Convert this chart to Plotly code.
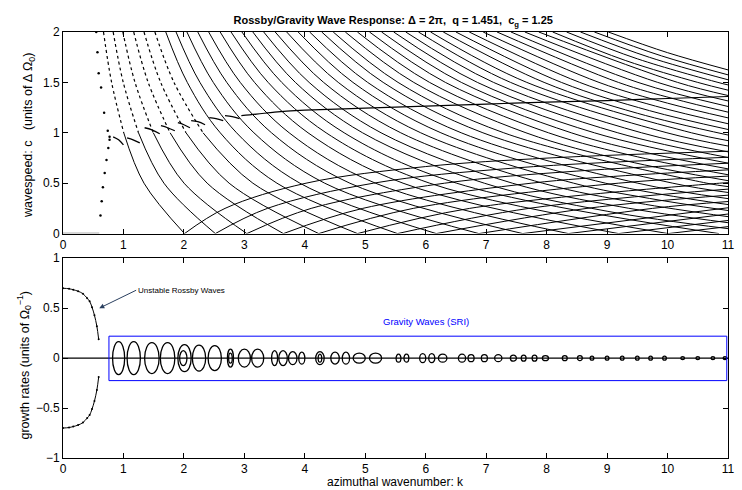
import plotly.graph_objects as go

# ================= data =================
# Descending gravity-wave branches of the wavespeed panel: (k, c) anchors
desc_curves = [
    [(0.67, 2.0), (0.804, 1.5), (1.005, 1.0), (1.34, 0.5), (2.01, 0.0)],
    [(0.83, 2.0), (0.997, 1.5), (1.249, 1.0), (1.67, 0.5), (2.52, 0.0)],
    [(0.99, 2.0), (1.191, 1.5), (1.494, 1.0), (2.003, 0.5), (3.041, 0.0)],
    [(1.17, 2.0), (1.409, 1.5), (1.772, 1.0), (2.385, 0.5), (3.646, 0.0)],
    [(1.34, 2.0), (1.616, 1.5), (2.035, 1.0), (2.748, 0.5), (4.231, 0.0)],
    [(1.52, 2.0), (1.836, 1.5), (2.317, 1.0), (3.141, 0.5), (4.872, 0.0)],
    [(1.70, 2.0), (2.056, 1.5), (2.601, 1.0), (3.539, 0.5), (5.533, 0.0)],
    [(1.87, 2.0), (2.265, 1.5), (2.871, 1.0), (3.919, 0.5), (6.174, 0.0)],
    [(2.05, 2.0), (2.486, 1.5), (3.158, 1.0), (4.329, 0.5), (6.879, 0.0)],
    [(2.23, 2.0), (2.709, 1.5), (3.449, 1.0), (4.745, 0.5), (7.604, 0.0)],
    [(2.41, 2.0), (2.932, 1.5), (3.741, 1.0), (5.169, 0.5), (8.36, 0.0)],
    [(2.60, 2.0), (3.168, 1.5), (4.053, 1.0), (5.625, 0.5), (9.19, 0.0)],
    [(2.78, 2.0), (3.393, 1.5), (4.352, 1.0), (6.066, 0.5), (10.01, 0.0)],
    [(2.96, 2.0), (3.618, 1.5), (4.651, 1.0), (6.512, 0.5), (10.85, 0.0)],
    [(3.14, 2.0), (3.844, 1.5), (4.955, 1.0), (6.969, 0.5), (9.0, 0.222), (11.0, 0.049)],
    [(3.32, 2.0), (4.071, 1.5), (5.261, 1.0), (7.434, 0.5), (9.2, 0.268), (11.0, 0.108)],
    [(3.51, 2.0), (4.311, 1.5), (5.587, 1.0), (7.934, 0.5), (9.5, 0.304), (11.0, 0.168)],
    [(3.70, 2.0), (4.553, 1.5), (5.917, 1.0), (8.447, 0.5), (9.7, 0.349), (11.0, 0.229)],
    [(3.89, 2.0), (4.796, 1.5), (6.251, 1.0), (8.973, 0.5), (11.0, 0.288)],
    [(4.08, 2.0), (5.039, 1.5), (6.587, 1.0), (9.508, 0.5), (11.0, 0.347)],
    [(4.28, 2.0), (5.296, 1.5), (6.946, 1.0), (10.087, 0.5), (11.0, 0.408)],
    [(4.47, 2.0), (5.542, 1.5), (7.291, 1.0), (10.651, 0.5), (11.0, 0.466)],
    [(4.67, 2.0), (5.802, 1.5), (7.658, 1.0), (9.3, 0.724), (11.0, 0.525)],
    [(4.87, 2.0), (6.063, 1.5), (8.03, 1.0), (9.5, 0.762), (11.0, 0.584)],
    [(5.07, 2.0), (6.325, 1.5), (8.407, 1.0), (9.7, 0.797), (11.0, 0.642)],
    [(5.27, 2.0), (6.589, 1.5), (8.789, 1.0), (11.0, 0.699)],
    [(5.47, 2.0), (6.854, 1.5), (9.177, 1.0), (11.0, 0.755)],
    [(5.67, 2.0), (7.121, 1.5), (9.57, 1.0), (11.0, 0.811)],
    [(5.88, 2.0), (7.403, 1.5), (9.99, 1.0), (11.0, 0.869)],
    [(6.08, 2.0), (7.672, 1.5), (10.395, 1.0), (11.0, 0.922)],
    [(6.29, 2.0), (7.958, 1.5), (9.5, 1.194), (11.0, 0.978)],
    [(6.50, 2.0), (8.244, 1.5), (9.7, 1.220), (11.0, 1.033)],
    [(6.72, 2.0), (8.547, 1.5), (9.8, 1.265), (11.0, 1.090)],
    [(6.95, 2.0), (8.866, 1.5), (10.0, 1.294), (11.0, 1.148)],
    [(7.18, 2.0), (9.187, 1.5), (10.1, 1.338), (11.0, 1.205)],
    [(7.41, 2.0), (9.511, 1.5), (11.0, 1.261)],
    [(7.64, 2.0), (9.837, 1.5), (11.0, 1.316)],
    [(7.87, 2.0), (10.166, 1.5), (11.0, 1.370)],
    [(8.10, 2.0), (9.3, 1.718), (10.499, 1.5), (11.0, 1.423)],
    [(8.33, 2.0), (9.5, 1.734), (10.834, 1.5), (11.0, 1.475)],
    [(8.56, 2.0), (9.7, 1.749), (11.0, 1.526)],
    [(8.79, 2.0), (9.9, 1.763), (11.0, 1.575)],
    [(9.02, 2.0), (10.0, 1.795), (11.0, 1.624)],
]

# Ascending (mirror) branches, rising from c = 0
asc_curves = [
    [(2.01, 0.0), (2.68, 0.25), (4.02, 0.5), (6.0, 0.665), (8.04, 0.75), (11.0, 0.817)],
    [(2.52, 0.0), (3.381, 0.25), (5.135, 0.5), (7.5, 0.652), (11.0, 0.757)],
    [(3.041, 0.0), (4.105, 0.25), (6.312, 0.5), (8.5, 0.62), (11.0, 0.698)],
    [(3.646, 0.0), (4.958, 0.25), (7.744, 0.5), (9.3, 0.575), (11.0, 0.632)],
    [(4.231, 0.0), (5.793, 0.25), (9.185, 0.5), (11.0, 0.570)],
    [(4.872, 0.0), (6.726, 0.25), (10.86, 0.5), (11.0, 0.505)],
    [(5.533, 0.0), (7.705, 0.25), (11.0, 0.441)],
    [(6.174, 0.0), (8.667, 0.25), (11.0, 0.381)],
    [(6.879, 0.0), (9.75, 0.25), (11.0, 0.318)],
    [(7.604, 0.0), (11.0, 0.256)],
    [(8.36, 0.0), (11.0, 0.194)],
    [(9.19, 0.0), (11.0, 0.130)],
    [(10.01, 0.0), (11.0, 0.069)],
]

# Rossby (critical-layer) branch: avoided-crossing wiggles, then smooth line
rossby_wiggles = [
    [(0.83, 0.96), (0.92, 0.93), (1.0, 0.88)],
    [(1.06, 0.95), (1.16, 0.93), (1.27, 0.90)],
    [(1.35, 1.05), (1.47, 1.03), (1.60, 0.99)],
    [(1.62, 1.07), (1.73, 1.05), (1.85, 1.02)],
    [(1.90, 1.10), (2.00, 1.08), (2.10, 1.05)],
    [(2.12, 1.12), (2.23, 1.11), (2.35, 1.08)],
    [(2.42, 1.15), (2.53, 1.14), (2.65, 1.12)],
    [(2.68, 1.17), (2.80, 1.16), (2.92, 1.14)],
]
rossby_k = [2.95, 3.2, 3.5, 3.7, 4.0, 5.0, 6.0, 7.0, 8.0, 9.0, 10.0, 11.0]
rossby_c = [1.17, 1.185, 1.205, 1.215, 1.225, 1.245, 1.265, 1.285, 1.305, 1.32, 1.34, 1.36]

# dotted left-hand Rossby branches
rossby_up_k = [0.62, 0.64, 0.66, 0.69, 0.72, 0.75, 0.77]
rossby_up_c = [0.18, 0.32, 0.46, 0.60, 0.73, 0.85, 0.93]
rossby_dn_k = [0.55, 0.57, 0.59, 0.63, 0.68, 0.74, 0.77]
rossby_dn_c = [2.0, 1.80, 1.59, 1.45, 1.20, 1.02, 0.96]
unstable_k = [0.0, 0.6]
unstable_c = [0.0, 0.0]

# growth rate of the unstable Rossby mode (lower panel)
growth_k = [0.0, 0.1, 0.17, 0.25, 0.33, 0.4, 0.44, 0.48, 0.52, 0.56, 0.59]
growth_s = [0.70, 0.695, 0.685, 0.67, 0.645, 0.60, 0.57, 0.51, 0.43, 0.32, 0.19]

# SRI instability bubbles: centre k, half width in k, growth-rate height
bub_center = [0.92, 1.17, 1.47, 1.73, 2.01, 1.99, 2.25, 2.51, 2.77, 2.77, 3.00, 3.22, 3.50,
              3.64, 3.80, 3.95, 4.25, 4.25, 4.50, 4.68, 4.90, 5.17, 5.55, 5.68, 5.95, 6.10,
              6.28, 6.60, 6.75, 6.97, 7.20, 7.45, 7.62, 7.80, 7.98, 8.30, 8.55, 8.75, 9.00,
              9.25, 9.50, 9.72, 9.95, 10.25, 10.50, 10.75, 10.95]
bub_half = [0.10, 0.11, 0.12, 0.12, 0.11, 0.06, 0.11, 0.11, 0.05, 0.03, 0.10, 0.10, 0.05,
            0.07, 0.07, 0.05, 0.07, 0.03, 0.07, 0.06, 0.10, 0.10, 0.04, 0.04, 0.05, 0.05,
            0.07, 0.06, 0.05, 0.05, 0.06, 0.05, 0.04, 0.04, 0.05, 0.04, 0.04, 0.03, 0.03,
            0.03, 0.03, 0.03, 0.03, 0.03, 0.03, 0.03, 0.03]
bub_height = [0.165, 0.165, 0.155, 0.155, 0.135, 0.075, 0.13, 0.125, 0.09, 0.05, 0.09, 0.09, 0.075,
              0.075, 0.065, 0.06, 0.065, 0.04, 0.06, 0.06, 0.05, 0.05, 0.04, 0.04, 0.045, 0.045,
              0.04, 0.04, 0.035, 0.035, 0.035, 0.03, 0.03, 0.03, 0.025, 0.025, 0.025, 0.02, 0.02,
              0.02, 0.02, 0.02, 0.02, 0.015, 0.015, 0.015, 0.015]

x_ticks = list(range(0, 12))
top_y_ticks = [0, 0.5, 1, 1.5, 2]
top_y_text = ["0", "0.5", "1", "1.5", "2"]
bot_y_ticks = [-1, -0.5, 0, 0.5, 1]
bot_y_text = ["\u22121", "\u22120.5", "0", "0.5", "1"]

# ================= figure =================
FONT = "Liberation Sans, Arial, Helvetica, sans-serif"
fig = go.Figure()


def add_line(xs, ys, xa, ya, width=1.0, dash="solid", color="black", shape="spline"):
    fig.add_trace(go.Scatter(x=xs, y=ys, mode="lines", xaxis=xa, yaxis=ya, showlegend=False,
                             hoverinfo="skip",
                             line=dict(color=color, width=width, dash=dash, shape=shape)))


# upper panel
for i, cur in enumerate(desc_curves):
    xs = [p[0] for p in cur]
    ys = [p[1] for p in cur]
    if i < 6:
        # steep upper part looks dotted in the reference
        add_line(xs[:3], ys[:3], "x", "y", width=1.2, dash="dot")
        add_line(xs[2:], ys[2:], "x", "y")
    else:
        add_line(xs, ys, "x", "y")
for cur in asc_curves:
    add_line([p[0] for p in cur], [p[1] for p in cur], "x", "y")
for seg in rossby_wiggles:
    add_line([p[0] for p in seg], [p[1] for p in seg], "x", "y", width=1.3)
add_line(rossby_k, rossby_c, "x", "y", width=1.2)
fig.add_trace(go.Scatter(x=rossby_up_k, y=rossby_up_c, mode="markers", xaxis="x", yaxis="y",
                         showlegend=False, marker=dict(size=2.5, color="black")))
fig.add_trace(go.Scatter(x=rossby_dn_k, y=rossby_dn_c, mode="markers", xaxis="x", yaxis="y",
                         showlegend=False, marker=dict(size=2.5, color="black")))
add_line(unstable_k, unstable_c, "x", "y", width=2, color="#b0b0b0", shape="linear")

# lower panel
add_line([0, 11], [0, 0], "x2", "y2", width=1.4, shape="linear")
fig.add_trace(go.Scatter(x=growth_k, y=growth_s, mode="lines+markers", xaxis="x2", yaxis="y2",
                         showlegend=False, marker=dict(size=2, color="black"),
                         line=dict(color="black", width=1, shape="spline")))
fig.add_trace(go.Scatter(x=growth_k, y=[-s for s in growth_s], mode="lines+markers", xaxis="x2",
                         yaxis="y2", showlegend=False, marker=dict(size=2, color="black"),
                         line=dict(color="black", width=1, shape="spline")))

shapes = []
for c, hw, h in zip(bub_center, bub_half, bub_height):
    shapes.append(dict(type="circle", xref="x2", yref="y2", x0=c - hw, x1=c + hw, y0=-h, y1=h,
                       line=dict(color="black", width=1.3)))
shapes.append(dict(type="rect", xref="x2", yref="y2", x0=0.76, x1=10.98, y0=-0.225, y1=0.22,
                   line=dict(color="blue", width=1)))

axis_common = dict(showline=True, linecolor="black", linewidth=1, mirror="allticks",
                   ticks="inside", ticklen=5, tickcolor="black", showgrid=False, zeroline=False,
                   tickfont=dict(family=FONT, size=12, color="black"))

fig.update_layout(
    width=742, height=490,
    margin=dict(l=63, r=7, t=32, b=32),
    paper_bgcolor="white", plot_bgcolor="white",
    xaxis=dict(domain=[0, 1], range=[0, 11], tickvals=x_ticks, anchor="y", **axis_common),
    yaxis=dict(domain=[0.5268, 1], range=[0, 2], tickvals=top_y_ticks, ticktext=top_y_text,
               anchor="x", **axis_common),
    xaxis2=dict(domain=[0, 1], range=[0, 11], tickvals=x_ticks, anchor="y2", **axis_common),
    yaxis2=dict(domain=[0, 0.4688], range=[-1, 1], tickvals=bot_y_ticks, ticktext=bot_y_text,
                anchor="x2", **axis_common),
    title=dict(text="<b>Rossby/Gravity Wave Response: Δ = 2π,  q = 1.451,  c<sub>g</sub> = 1.25</b>",
               font=dict(family=FONT, size=11, color="black"), x=0.53, xanchor="center",
               y=0.958, yanchor="middle"),
    shapes=shapes,
    annotations=[
        dict(x=0.6, y=0.5, xref="x2", yref="y2", ax=1.21, ay=0.68, axref="x2", ayref="y2",
             text="Unstable Rossby Waves", showarrow=True, arrowhead=2, arrowsize=1, arrowwidth=1,
             xanchor="left", font=dict(family=FONT, size=8, color="black")),
        dict(x=6.0, y=0.37, xref="x2", yref="y2", text="Gravity Waves (SRI)", showarrow=False,
             font=dict(family=FONT, size=9.5, color="blue")),
        dict(x=-0.052, y=0.757, xref="paper", yref="paper", textangle=-90, showarrow=False,
             xanchor="center", yanchor="middle",
             text="wavespeed: c   (units of Δ Ω<sub>0</sub>)",
             font=dict(family=FONT, size=12.5, color="black")),
        dict(x=-0.058, y=0.218, xref="paper", yref="paper", textangle=-90, showarrow=False,
             xanchor="center", yanchor="middle",
             text="growth rates (units of Ω<sub>0</sub><sup>−1</sup>)",
             font=dict(family=FONT, size=12.5, color="black")),
        dict(x=0.5, y=-0.0575, xref="paper", yref="paper", showarrow=False,
             xanchor="center", yanchor="middle",
             text="azimuthal wavenumber: k", font=dict(family=FONT, size=12, color="black")),
    ],
)

fig.write_html("out.html", config={"displayModeBar": False},
               post_script="document.body.style.margin='0px';document.body.style.padding='0px';")
